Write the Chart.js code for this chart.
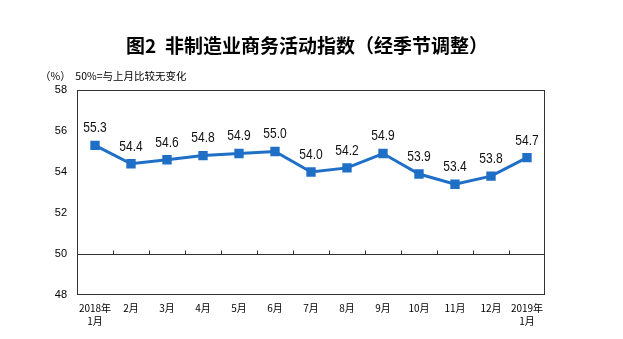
<!DOCTYPE html>
<html>
<head>
<meta charset="utf-8">
<title>非制造业商务活动指数</title>
<script src="https://cdn.jsdelivr.net/npm/chart.js@4/dist/chart.umd.min.js"></script>
<style>
    html, body { margin: 0; padding: 0; background: #fff; }
    #wrap { width: 623px; height: 339px; }
</style>
</head>
<body>
<div id="wrap"><canvas id="chart"></canvas></div>
<script>
// data
var months = [
    ['2018年', '1月'], '2月', '3月', '4月', '5月', '6月', '7月',
    '8月', '9月', '10月', '11月', '12月', ['2019年', '1月']
];
var indexValues = [55.3, 54.4, 54.6, 54.8, 54.9, 55.0, 54.0, 54.2, 54.9, 53.9, 53.4, 53.8, 54.7];
var yTicks = [48, 50, 52, 54, 56, 58];
var baseLine = 50;

var titleText = '图2  非制造业商务活动指数（经季节调整）';
var noteText = '（%）  50%=与上月比较无变化';

// title, note, frame and the 50 line with its small ticks
var framePlugin = {
    id: 'frame',
    beforeDraw: function (chart) {
        var ctx = chart.ctx;
        ctx.save();
        ctx.fillStyle = '#000';
        ctx.textBaseline = 'middle';
        ctx.font = 'bold 19px "Noto Sans CJK SC", sans-serif';
        ctx.textAlign = 'center';
        ctx.fillText(titleText, 307, 46);
        ctx.font = '10.5px "Noto Sans CJK SC", sans-serif';
        ctx.textAlign = 'left';
        ctx.fillText(noteText, 40, 76);
        ctx.restore();
    },
    beforeDatasetsDraw: function (chart) {
        var ctx = chart.ctx;
        var a = chart.chartArea;
        var x = chart.scales.x;
        var y = chart.scales.y;
        ctx.save();
        ctx.strokeStyle = '#333';
        ctx.lineWidth = 1;
        ctx.strokeRect(Math.round(a.left) + 0.5, Math.round(a.top) + 0.5,
            Math.round(a.right - a.left) - 1, Math.round(a.bottom - a.top) - 1);

        var yb = Math.round(y.getPixelForValue(baseLine)) + 0.5;
        ctx.beginPath();
        ctx.moveTo(a.left, yb);
        ctx.lineTo(a.right, yb);
        for (var i = 1; i < months.length; i++) {
            var xb = Math.round((x.getPixelForValue(i - 1) + x.getPixelForValue(i)) / 2) + 0.5;
            ctx.moveTo(xb, yb);
            ctx.lineTo(xb, yb - 4);
        }
        ctx.stroke();
        ctx.restore();
    },
    afterDatasetsDraw: function (chart) {
        var ctx = chart.ctx;
        var meta = chart.getDatasetMeta(0);
        ctx.save();
        ctx.fillStyle = '#111';
        ctx.font = '14px "Liberation Sans", Arial, sans-serif';
        ctx.textAlign = 'center';
        ctx.textBaseline = 'middle';
        meta.data.forEach(function (pt, i) {
            // squeeze a bit, the original uses a narrow face
            ctx.save();
            ctx.translate(pt.x, pt.y - 17);
            ctx.scale(0.86, 1);
            ctx.fillText(indexValues[i].toFixed(1), 0, 0);
            ctx.restore();
        });
        ctx.restore();
    }
};

var ctx = document.getElementById('chart');
window.indexChart = new Chart(ctx, {
    type: 'line',
    data: {
        labels: months,
        datasets: [{
            data: indexValues,
            borderColor: '#1f6fc6',
            backgroundColor: '#1f6fc6',
            borderWidth: 3,
            pointStyle: 'rect',
            pointRadius: 4.5,
            pointHoverRadius: 4.5,
            tension: 0
        }]
    },
    options: {
        responsive: true,
        maintainAspectRatio: false,
        animation: false,
        layout: {
            padding: {left: 40, right: 78, top: 90, bottom: 0}
        },
        plugins: {
            legend: {display: false},
            tooltip: {enabled: false}
        },
        scales: {
            x: {
                offset: true,
                grid: {display: false, drawTicks: false},
                border: {display: false},
                ticks: {
                    color: '#000',
                    padding: 7,
                    maxRotation: 0,
                    autoSkip: false,
                    font: {family: '"Noto Sans CJK SC", sans-serif', size: 10, lineHeight: 1.25}
                },
                afterFit: function (scale) {
                    scale.height = 44;
                }
            },
            y: {
                min: 48,
                max: 58,
                grid: {display: false, drawTicks: false},
                border: {display: false},
                afterBuildTicks: function (scale) {
                    scale.ticks = yTicks.map(function (v) { return {value: v}; });
                },
                ticks: {
                    color: '#000',
                    padding: 10,
                    font: {family: '"Liberation Sans", Arial, sans-serif', size: 11}
                },
                afterFit: function (scale) {
                    scale.width = 37;
                }
            }
        }
    },
    plugins: [framePlugin]
});
</script>
</body>
</html>
